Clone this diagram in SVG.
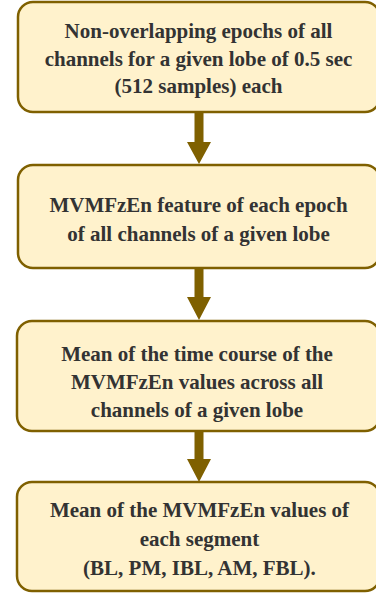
<svg xmlns="http://www.w3.org/2000/svg" width="376" height="593" viewBox="0 0 376 593">
<style>
.box{fill:#fff2cc;stroke:#7f6000;stroke-width:2.5}
.arr{fill:#7f6000}
</style>
<rect width="376" height="593" fill="#ffffff"/>
<g id="connectors">
<path class="arr" d="M194.5 112 H203.5 V142 H211 L199 164 L187 142 H194.5 Z"/>
<path class="arr" d="M194.5 268 H203.5 V297 H211 L199 320 L187 297 H194.5 Z"/>
<path class="arr" d="M194.5 431 H203.5 V459 H211 L199 482 L187 459 H194.5 Z"/>
</g>
<g id="node1">
<rect class="box" x="18" y="2" width="362" height="110" rx="15"/>
<text x="198.5" y="37.5" font-family="Liberation Serif" font-weight="bold" font-size="21" fill="#333333" text-anchor="middle">Non-overlapping epochs of all</text>
<text x="198.5" y="65.5" font-family="Liberation Serif" font-weight="bold" font-size="21" fill="#333333" text-anchor="middle">channels for a given lobe of 0.5 sec</text>
<text x="198.5" y="93" font-family="Liberation Serif" font-weight="bold" font-size="21" fill="#333333" text-anchor="middle">(512 samples) each</text>
</g>
<g id="node2">
<rect class="box" x="18" y="165" width="362" height="103" rx="15"/>
<text x="198.5" y="212" font-family="Liberation Serif" font-weight="bold" font-size="21" fill="#333333" text-anchor="middle">MVMFzEn feature of each epoch</text>
<text x="198.5" y="240.5" font-family="Liberation Serif" font-weight="bold" font-size="21" fill="#333333" text-anchor="middle">of all channels of a given lobe</text>
</g>
<g id="node3">
<rect class="box" x="17" y="321" width="363" height="110" rx="15"/>
<text x="197" y="361" font-family="Liberation Serif" font-weight="bold" font-size="21" fill="#333333" text-anchor="middle">Mean of the time course of the</text>
<text x="197" y="389" font-family="Liberation Serif" font-weight="bold" font-size="21" fill="#333333" text-anchor="middle">MVMFzEn values across all</text>
<text x="197" y="417" font-family="Liberation Serif" font-weight="bold" font-size="21" fill="#333333" text-anchor="middle">channels of a given lobe</text>
</g>
<g id="node4">
<rect class="box" x="17" y="482" width="363" height="109" rx="15"/>
<text x="199.5" y="517" font-family="Liberation Serif" font-weight="bold" font-size="21" fill="#333333" text-anchor="middle">Mean of the MVMFzEn values of</text>
<text x="199.5" y="546" font-family="Liberation Serif" font-weight="bold" font-size="21" fill="#333333" text-anchor="middle">each segment</text>
<text x="199.5" y="575" font-family="Liberation Serif" font-weight="bold" font-size="21" fill="#333333" text-anchor="middle">(BL, PM, IBL, AM, FBL).</text>
</g>
</svg>
